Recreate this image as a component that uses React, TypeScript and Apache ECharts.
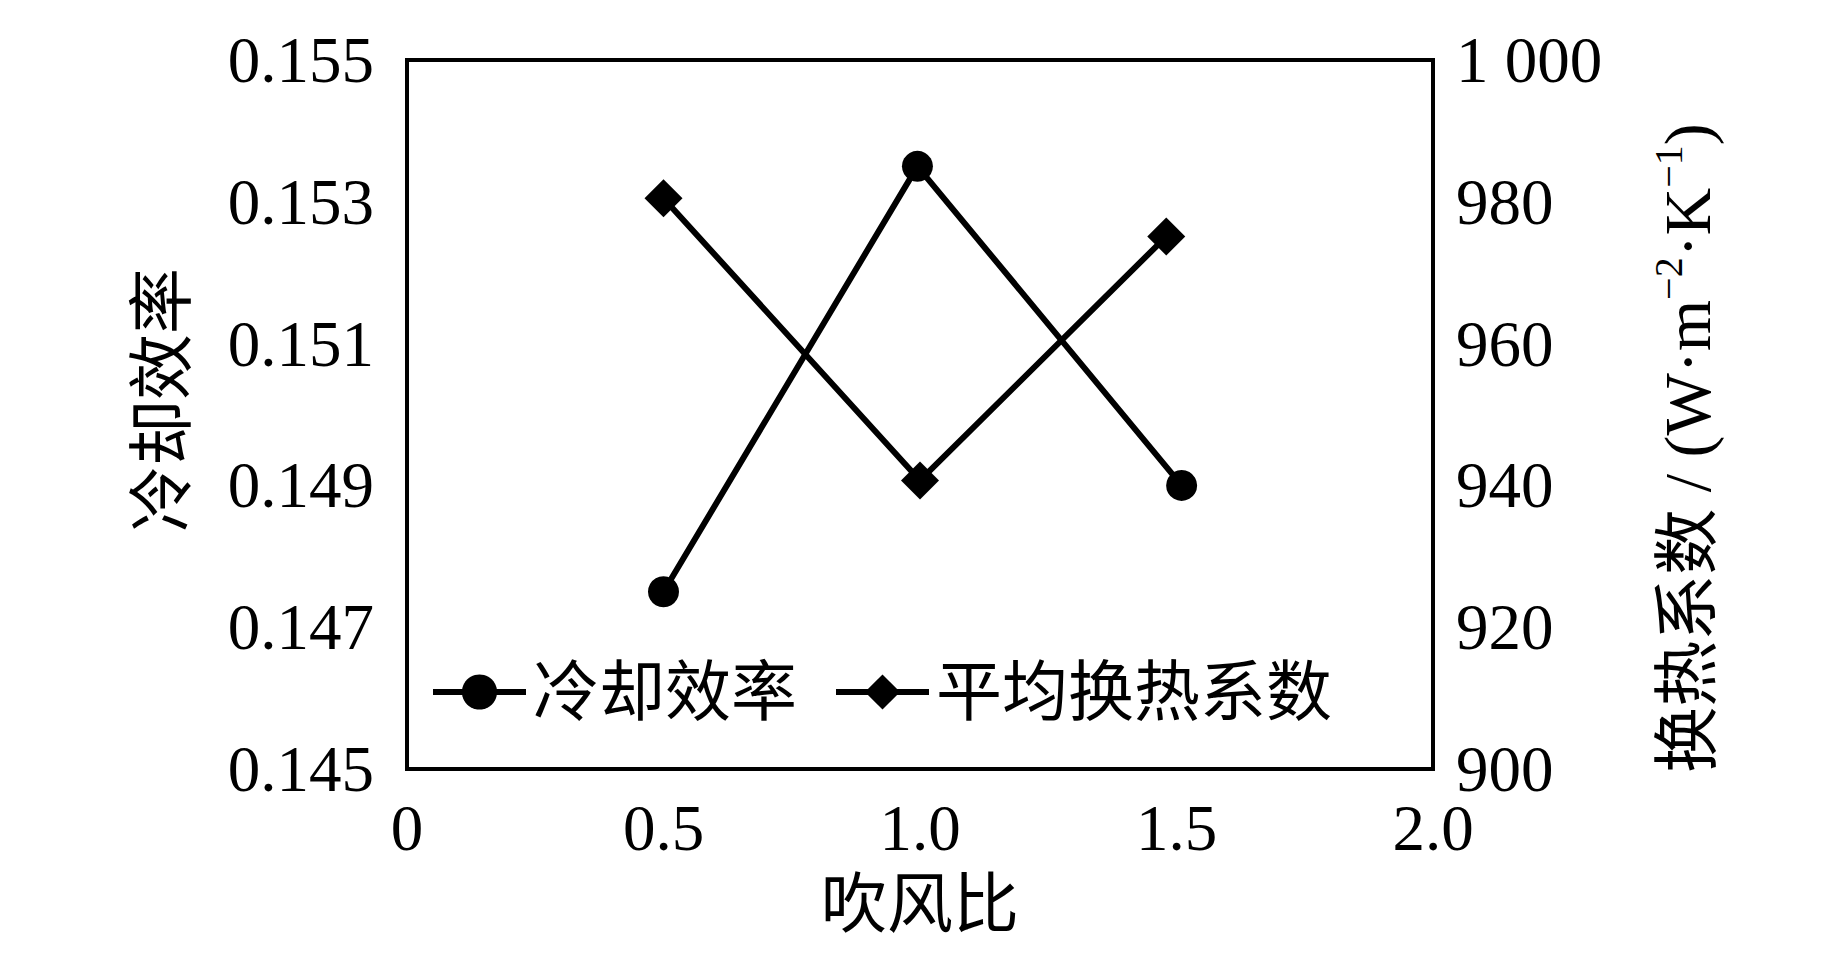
import React, { useEffect, useRef } from "react";
import * as echarts from "echarts";

// 吹风比 positions of each measured point
const effX = [0.5, 0.995, 1.51];
const htcX = [0.5, 1.0, 1.48];
// 冷却效率 (left axis)
const effVals = [0.1475, 0.1535, 0.149];
// 平均换热系数, W·m^-2·K^-1 (right axis)
const htcVals = [980.5, 940.7, 975.1];

const seriesNames = ["冷却效率", "平均换热系数"];
const xTitle = "吹风比";
const leftTitle = "冷却效率";

const FONT = "'Liberation Serif', 'Noto Sans CJK SC', serif";

export default function App() {
  const ref = useRef<HTMLDivElement>(null);

  useEffect(() => {
    if (!ref.current) return;
    const chart = echarts.init(ref.current, null, { renderer: "svg" });
    chart.setOption({
      animation: false,
      backgroundColor: "#fff",
      grid: {
        left: 407,
        right: 410,
        top: 60,
        bottom: 200,
        show: true,
        borderColor: "#000",
        borderWidth: 4,
      },
      legend: {
        left: 425,
        top: 654,
        itemWidth: 93,
        itemHeight: 44,
        itemGap: 36,
        data: seriesNames,
        lineStyle: { width: 6, color: "#000" },
        textStyle: { fontFamily: FONT, fontSize: 66, color: "#000", padding: [0, 0, 0, 2] },
      },
      xAxis: {
        type: "value",
        min: 0,
        max: 2,
        interval: 0.5,
        name: xTitle,
        nameLocation: "middle",
        nameGap: 102,
        nameTextStyle: { fontFamily: FONT, fontSize: 66, color: "#000" },
        axisLine: { show: false },
        axisTick: { show: false },
        splitLine: { show: false },
        axisLabel: {
          margin: 26,
          fontFamily: FONT,
          fontSize: 65,
          color: "#000",
          formatter: (v: number) => (v === 0 ? "0" : v.toFixed(1)),
        },
      },
      yAxis: [
        {
          type: "value",
          min: 0.145,
          max: 0.155,
          interval: 0.002,
          axisLine: { show: false },
          axisTick: { show: false },
          splitLine: { show: false },
          axisLabel: {
            margin: 33,
            fontFamily: FONT,
            fontSize: 65,
            color: "#000",
            formatter: (v: number) => v.toFixed(3),
          },
        },
        {
          type: "value",
          min: 900,
          max: 1000,
          interval: 20,
          position: "right",
          axisLine: { show: false },
          axisTick: { show: false },
          splitLine: { show: false },
          axisLabel: {
            margin: 23,
            fontFamily: FONT,
            fontSize: 65,
            color: "#000",
            formatter: (v: number) => (v === 1000 ? "1 000" : String(v)),
          },
        },
      ],
      graphic: [
        {
          type: "text",
          x: 162,
          y: 400,
          rotation: Math.PI / 2,
          style: {
            text: leftTitle,
            fontFamily: FONT,
            fontSize: 66,
            fill: "#000",
            align: "center",
            verticalAlign: "middle",
          },
        },
        {
          type: "text",
          x: 1684,
          y: 448,
          rotation: Math.PI / 2,
          style: {
            text: "{a|换热系数 / (W·m}{s|−2}{a|·K}{s|−1}{a|)}",
            fontFamily: FONT,
            fill: "#000",
            align: "center",
            verticalAlign: "middle",
            rich: {
              a: { fontFamily: FONT, fontSize: 66, lineHeight: 72, fill: "#000", verticalAlign: "bottom" },
              s: { fontFamily: FONT, fontSize: 40, lineHeight: 72, fill: "#000", verticalAlign: "top" },
            },
          },
        },
      ],
      series: [
        {
          name: seriesNames[0],
          type: "line",
          yAxisIndex: 0,
          data: effX.map((x, i) => [x, effVals[i]]),
          symbol: "circle",
          symbolSize: 31,
          itemStyle: { color: "#000" },
          lineStyle: { color: "#000", width: 6 },
        },
        {
          name: seriesNames[1],
          type: "line",
          yAxisIndex: 1,
          data: htcX.map((x, i) => [x, htcVals[i]]),
          symbol: "diamond",
          symbolSize: 38,
          itemStyle: { color: "#000" },
          lineStyle: { color: "#000", width: 6 },
        },
      ],
    });
    return () => chart.dispose();
  }, []);

  return (
    <div
      ref={ref}
      style={{ position: "fixed", left: 0, top: 0, width: 1843, height: 969, background: "#fff" }}
    />
  );
}
